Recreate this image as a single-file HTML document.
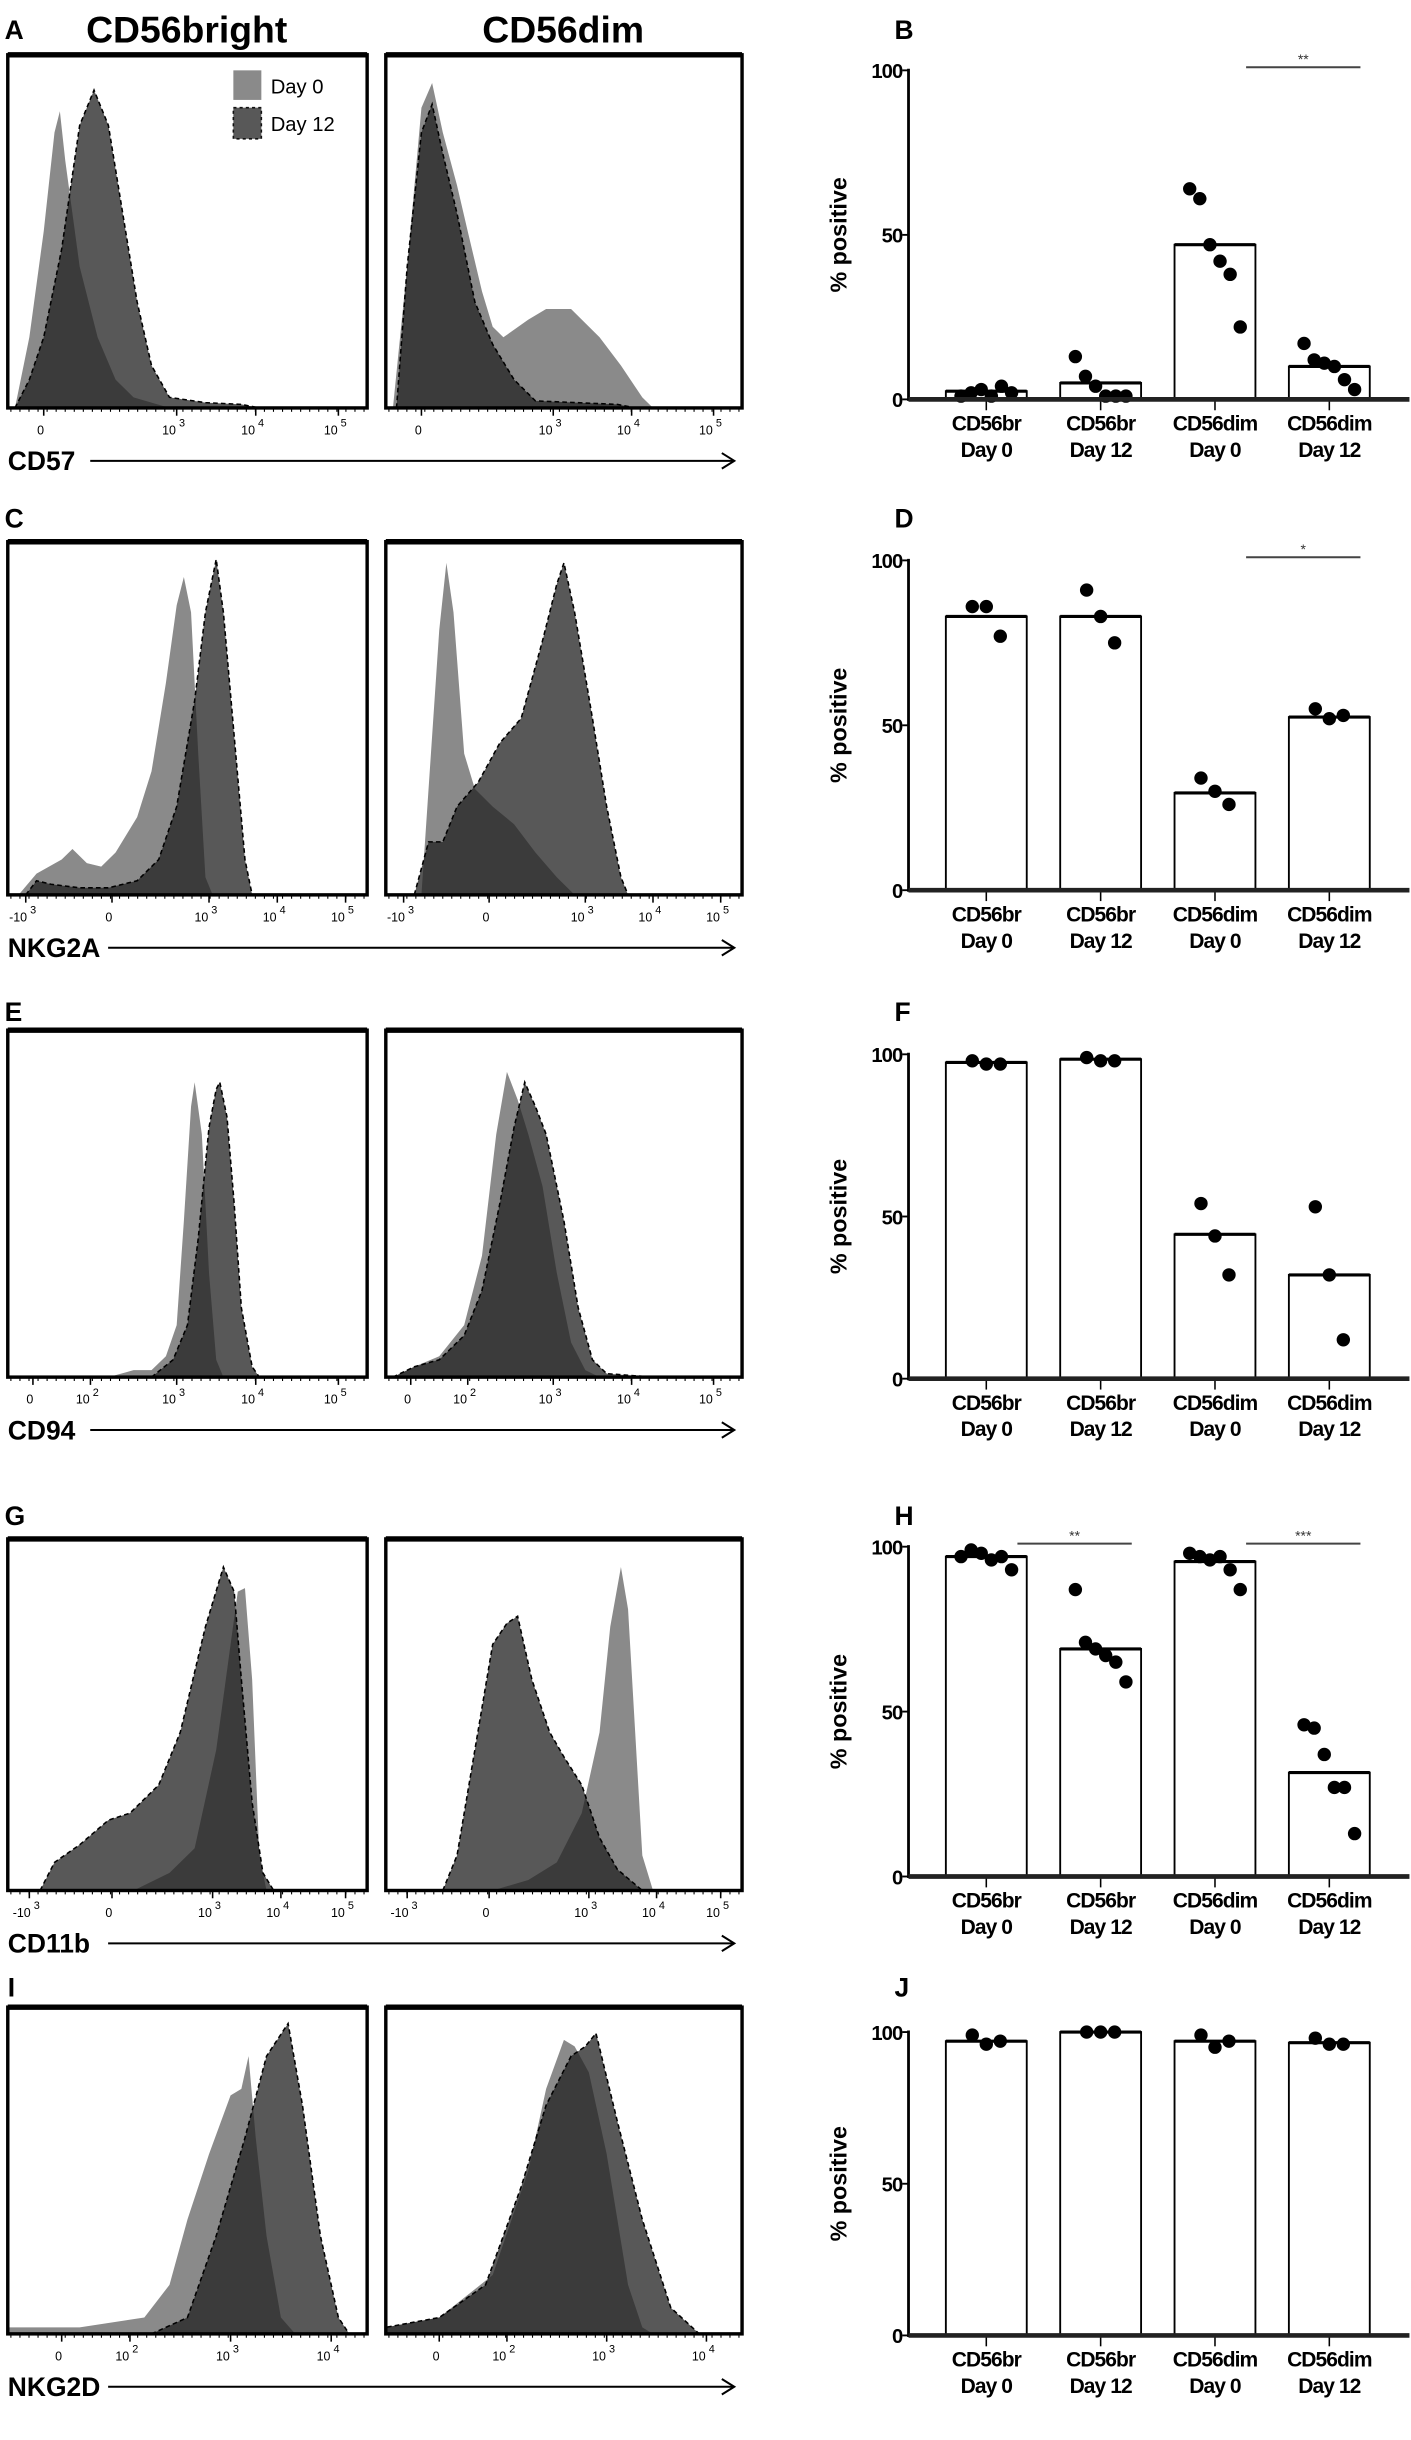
<!DOCTYPE html>
<html><head><meta charset="utf-8">
<style>
html,body{margin:0;padding:0;background:#fff;}
svg{display:block;font-family:"Liberation Sans",Arial,sans-serif;}
</style></head>
<body>
<svg id="fig" xmlns="http://www.w3.org/2000/svg" width="1411" height="2440" viewBox="0 0 907 1568">
<text x="3" y="25" font-size="17" font-weight="bold">A</text>
<text x="120" y="27" font-size="24" font-weight="bold" text-anchor="middle">CD56bright</text>
<text x="362" y="27" font-size="24" font-weight="bold" text-anchor="middle">CD56dim</text>
<text x="575" y="25" font-size="17" font-weight="bold">B</text>
<text x="3" y="339" font-size="17" font-weight="bold">C</text>
<text x="575" y="339" font-size="17" font-weight="bold">D</text>
<text x="3" y="656" font-size="17" font-weight="bold">E</text>
<text x="575" y="656" font-size="17" font-weight="bold">F</text>
<text x="3" y="980" font-size="17" font-weight="bold">G</text>
<text x="575" y="980" font-size="17" font-weight="bold">H</text>
<text x="5" y="1283" font-size="17" font-weight="bold">I</text>
<text x="575" y="1283" font-size="17" font-weight="bold">J</text>
<g>
<rect x="150" y="45" width="18" height="19" fill="#8a8a8a"/>
<text x="174" y="60" font-size="13">Day 0</text>
<rect x="150" y="69" width="18" height="20" fill="#585858" stroke="#111" stroke-dasharray="2,2"/>
<text x="174" y="84" font-size="13">Day 12</text>
</g>
</svg>
<script>
// ---- Bar chart data ----
const categories = ["CD56br|Day 0","CD56br|Day 12","CD56dim|Day 0","CD56dim|Day 12"];
const meansB = [2.5, 5, 47, 10];
const pointsB = [[1,2,3,1,4,2],[13,7,4,1,1,1],[64,61,47,42,38,22],[17,12,11,10,6,3]];
const meansD = [83, 83, 29.5, 52.5];
const pointsD = [[86,86,77],[91,83,75],[34,30,26],[55,52,53]];
const meansF = [97.5, 98.5, 44.5, 32];
const pointsF = [[98,97,97],[99,98,98],[54,44,32],[53,32,12]];
const meansH = [97, 69, 95.5, 31.5];
const pointsH = [[97,99,98,96,97,93],[87,71,69,67,65,59],[98,97,96,97,93,87],[46,45,37,27,27,13]];
const meansJ = [97, 100, 97, 96.5];
const pointsJ = [[99,96,97],[100,100,100],[99,95,97],[98,96,96]];
const yTicks = [0, 50, 100];

// ---- Histogram data: [x fraction of axis, relative count] ----
const histA1d0 = [[0.02,0],[0.06,0.2],[0.1,0.5],[0.13,0.78],[0.145,0.84],[0.16,0.7],[0.2,0.4],[0.25,0.2],[0.3,0.08],[0.35,0.03],[0.45,0]];
const histA1d12 = [[0.02,0],[0.06,0.08],[0.1,0.2],[0.15,0.45],[0.2,0.8],[0.24,0.9],[0.28,0.8],[0.32,0.55],[0.36,0.3],[0.4,0.12],[0.45,0.03],[0.55,0.015],[0.65,0.01],[0.7,0]];
const histA2d0 = [[0.02,0],[0.06,0.4],[0.1,0.85],[0.13,0.92],[0.16,0.78],[0.2,0.63],[0.23,0.5],[0.27,0.33],[0.3,0.23],[0.33,0.2],[0.4,0.25],[0.45,0.28],[0.52,0.28],[0.6,0.2],[0.66,0.12],[0.72,0.03],[0.75,0]];
const histA2d12 = [[0.03,0],[0.06,0.4],[0.1,0.78],[0.13,0.86],[0.16,0.72],[0.2,0.55],[0.25,0.3],[0.3,0.18],[0.36,0.08],[0.42,0.02],[0.65,0.01],[0.7,0]];
const histC1d0 = [[0.03,0],[0.08,0.06],[0.15,0.1],[0.18,0.13],[0.22,0.09],[0.26,0.08],[0.3,0.12],[0.36,0.22],[0.4,0.35],[0.44,0.6],[0.47,0.82],[0.49,0.9],[0.51,0.8],[0.53,0.4],[0.55,0.05],[0.57,0]];
const histC1d12 = [[0.05,0],[0.08,0.04],[0.12,0.03],[0.2,0.02],[0.28,0.02],[0.36,0.04],[0.42,0.1],[0.47,0.25],[0.52,0.55],[0.55,0.8],[0.58,0.95],[0.6,0.8],[0.63,0.45],[0.66,0.1],[0.68,0]];
const histC2d0 = [[0.1,0],[0.12,0.3],[0.15,0.75],[0.17,0.94],[0.19,0.8],[0.22,0.4],[0.25,0.3],[0.3,0.25],[0.36,0.2],[0.42,0.12],[0.48,0.05],[0.53,0]];
const histC2d12 = [[0.08,0],[0.12,0.15],[0.16,0.15],[0.2,0.25],[0.26,0.32],[0.32,0.43],[0.38,0.5],[0.44,0.72],[0.48,0.88],[0.5,0.94],[0.53,0.8],[0.58,0.5],[0.62,0.25],[0.66,0.05],[0.68,0]];
const histE1d0 = [[0.28,0],[0.35,0.02],[0.4,0.02],[0.44,0.06],[0.47,0.15],[0.49,0.45],[0.51,0.78],[0.52,0.85],[0.54,0.7],[0.56,0.3],[0.58,0.05],[0.6,0]];
const histE1d12 = [[0.4,0],[0.46,0.05],[0.5,0.15],[0.53,0.4],[0.56,0.72],[0.58,0.83],[0.59,0.85],[0.61,0.75],[0.63,0.5],[0.65,0.2],[0.68,0.03],[0.7,0]];
const histE2d0 = [[0.02,0],[0.08,0.03],[0.15,0.06],[0.22,0.15],[0.27,0.35],[0.31,0.7],[0.34,0.88],[0.37,0.8],[0.4,0.7],[0.44,0.55],[0.48,0.3],[0.52,0.1],[0.56,0.02],[0.6,0]];
const histE2d12 = [[0.02,0],[0.08,0.03],[0.15,0.05],[0.22,0.12],[0.27,0.25],[0.32,0.5],[0.36,0.72],[0.39,0.85],[0.42,0.78],[0.45,0.7],[0.5,0.45],[0.54,0.2],[0.58,0.05],[0.62,0.01],[0.75,0]];
const histG1d0 = [[0.35,0],[0.45,0.05],[0.52,0.12],[0.58,0.4],[0.62,0.7],[0.64,0.85],[0.66,0.86],[0.68,0.6],[0.7,0.1],[0.72,0]];
const histG1d12 = [[0.09,0],[0.13,0.08],[0.2,0.13],[0.28,0.2],[0.34,0.22],[0.42,0.3],[0.48,0.45],[0.55,0.75],[0.6,0.92],[0.63,0.85],[0.65,0.6],[0.68,0.25],[0.71,0.05],[0.74,0]];
const histG2d0 = [[0.3,0],[0.4,0.03],[0.48,0.08],[0.55,0.22],[0.6,0.45],[0.63,0.75],[0.66,0.92],[0.68,0.8],[0.7,0.45],[0.72,0.1],[0.75,0]];
const histG2d12 = [[0.16,0],[0.2,0.1],[0.25,0.4],[0.3,0.7],[0.34,0.76],[0.37,0.78],[0.41,0.6],[0.46,0.45],[0.5,0.38],[0.55,0.3],[0.6,0.15],[0.65,0.06],[0.72,0]];
const histI1d0 = [[0,0.02],[0.2,0.02],[0.38,0.05],[0.45,0.15],[0.5,0.35],[0.56,0.55],[0.62,0.73],[0.65,0.75],[0.67,0.85],[0.69,0.6],[0.72,0.3],[0.76,0.05],[0.8,0]];
const histI1d12 = [[0.4,0],[0.5,0.05],[0.58,0.3],[0.66,0.6],[0.72,0.85],[0.78,0.95],[0.82,0.7],[0.87,0.3],[0.92,0.05],[0.95,0]];
const histI2d0 = [[0,0.02],[0.15,0.05],[0.3,0.18],[0.4,0.5],[0.45,0.75],[0.5,0.9],[0.53,0.88],[0.57,0.8],[0.62,0.55],[0.68,0.15],[0.72,0.02],[0.75,0]];
const histI2d12 = [[0,0.02],[0.15,0.05],[0.28,0.15],[0.38,0.45],[0.45,0.7],[0.52,0.85],[0.56,0.88],[0.59,0.92],[0.65,0.65],[0.72,0.35],[0.8,0.08],[0.88,0]];

const tickLabelsA = [["0",""],["10","3"],["10","4"],["10","5"]];
const tickPosA = [0.1,0.47,0.69,0.92];
const tickLabelsC = [["-10","3"],["0",""],["10","3"],["10","4"],["10","5"]];
const tickPosC = [0.05,0.29,0.56,0.75,0.94];
const tickLabelsE = [["0",""],["10","2"],["10","3"],["10","4"],["10","5"]];
const tickPosE = [0.07,0.23,0.47,0.69,0.92];
const tickLabelsG = [["-10","3"],["0",""],["10","3"],["10","4"],["10","5"]];
const tickPosG = [0.06,0.29,0.57,0.76,0.94];
const tickLabelsI = [["0",""],["10","2"],["10","3"],["10","4"]];
const tickPosI = [0.15,0.34,0.62,0.9];

const NS = "http://www.w3.org/2000/svg";
const svg = document.getElementById("fig");
function mk(tag, attrs, parent){
  const e = document.createElementNS(NS, tag);
  for (const k in attrs) e.setAttribute(k, attrs[k]);
  (parent||svg).appendChild(e);
  return e;
}

const rows = [
  {key:"a", top:35, bot:262, marker:"CD57", d:[[histA1d0,histA1d12],[histA2d0,histA2d12]], tp:tickPosA, tl:tickLabelsA},
  {key:"c", top:348, bot:575, marker:"NKG2A", d:[[histC1d0,histC1d12],[histC2d0,histC2d12]], tp:tickPosC, tl:tickLabelsC},
  {key:"e", top:662, bot:885, marker:"CD94", d:[[histE1d0,histE1d12],[histE2d0,histE2d12]], tp:tickPosE, tl:tickLabelsE},
  {key:"g", top:989, bot:1215, marker:"CD11b", d:[[histG1d0,histG1d12],[histG2d0,histG2d12]], tp:tickPosG, tl:tickLabelsG},
  {key:"i", top:1290, bot:1500, marker:"NKG2D", d:[[histI1d0,histI1d12],[histI2d0,histI2d12]], tp:tickPosI, tl:tickLabelsI}
];
const boxes = [[5,236],[248,477]];

function histPath(pts, x0, x1, top, bot){
  const xs = v => x0 + v*(x1-x0);
  const ys = v => bot - v*(bot-top);
  let d = "M" + xs(pts[0][0]) + "," + bot;
  pts.forEach(p => { d += " L" + xs(p[0]).toFixed(2) + "," + ys(p[1]).toFixed(2); });
  d += " L" + xs(pts[pts.length-1][0]) + "," + bot + " Z";
  return d;
}

rows.forEach(r => {
  boxes.forEach((b, bi) => {
    const g = mk("g", {});
    
    
    const p0 = mk("path", {d: histPath(r.d[bi][0], b[0], b[1], r.top, r.bot), fill:"#8a8a8a"}, g);
    
    
    const p1 = mk("path", {d: histPath(r.d[bi][1], b[0], b[1], r.top, r.bot), fill:"#202020", "fill-opacity":"0.75", stroke:"#000", "stroke-width":"1", "stroke-dasharray":"3,2"}, g);
    
    
    const bx = mk("rect", {x:b[0], y:r.top, width:b[1]-b[0], height:r.bot-r.top, fill:"none", stroke:"#000", "stroke-width":"2.2"}, g);
    
    
    mk("line", {x1:b[0], x2:b[1], y1:r.top, y2:r.top, stroke:"#000", "stroke-width":"3.5"}, g);
    for (let k=0;k<40;k++){
      const xx = b[0] + 2 + k*(b[1]-b[0]-4)/39;
      mk("line", {x1:xx, x2:xx, y1:r.bot, y2:r.bot+2.5, stroke:"#000", "stroke-width":"0.7"}, g);
    }
    r.tp.forEach((t, ti) => {
      const xx = b[0] + t*(b[1]-b[0]);
      mk("line", {x1:xx, x2:xx, y1:r.bot, y2:r.bot+5, stroke:"#000", "stroke-width":"1"}, g);
      const tx = mk("text", {x:xx-2, y:r.bot+17, "font-size":"8", "text-anchor":"middle"}, g);
      
      
      tx.textContent = r.tl[ti][0];
      if (r.tl[ti][1]) {
        const sp = mk("tspan", {dy:"-5", "font-size":"7"}, tx);
        sp.textContent = " " + r.tl[ti][1];
      }
    });
  });
  const lbl = mk("text", {x:5, y:r.bot+40, "font-size":"17", "font-weight":"bold"});
  
  
  lbl.textContent = r.marker;
  const ax0 = 12 + r.marker.length*11.5;
  const ar = mk("line", {x1:ax0, x2:472, y1:r.bot+34, y2:r.bot+34, stroke:"#000", "stroke-width":"1.3"});
  
  
  mk("path", {d:"M464,"+(r.bot+29)+" L472,"+(r.bot+34)+" L464,"+(r.bot+39), fill:"none", stroke:"#000", "stroke-width":"1.3"});
});

const barCharts = [
  {key:"b", y100:45, y0:256.5, means:meansB, pts:pointsB, sig:[[2,3,"**"]]},
  {key:"d", y100:360, y0:572, means:meansD, pts:pointsD, sig:[[2,3,"*"]]},
  {key:"f", y100:677.5, y0:886, means:meansF, pts:pointsF, sig:[]},
  {key:"h", y100:994, y0:1206, means:meansH, pts:pointsH, sig:[[0,1,"**"],[2,3,"***"]]},
  {key:"j", y100:1306, y0:1501, means:meansJ, pts:pointsJ, sig:[]}
];
const axisX = 584, barW = 52;
const xCenter = i => 634 + i*73.5;
barCharts.forEach(c => {
  const yS = v => c.y0 - v/100*(c.y0-c.y100);
  const g = mk("g", {});
  
  
  c.means.forEach((m, i) => {
    const r = mk("rect", {x:xCenter(i)-barW/2, y:yS(m), width:barW, height:c.y0-yS(m), fill:"#fff", stroke:"#000", "stroke-width":"1.2"}, g);
    
    
    mk("line", {x1:xCenter(i)-barW/2, x2:xCenter(i)+barW/2, y1:yS(m), y2:yS(m), stroke:"#000", "stroke-width":"2"}, g);
    const n = c.pts[i].length;
    c.pts[i].forEach((v, k) => {
      const off = (k - (n-1)/2) * (n>3 ? 6.5 : 9);
      const dot = mk("circle", {cx:xCenter(i)+off, cy:yS(v), r:4.3, fill:"#000"}, g);
      
      
    });
    mk("line", {x1:xCenter(i), x2:xCenter(i), y1:c.y0, y2:c.y0+7, stroke:"#000", "stroke-width":"1"}, g);
    const parts = categories[i].split("|");
    const t1 = mk("text", {x:xCenter(i), y:c.y0+20, "font-size":"13.5", "font-weight":"bold", "text-anchor":"middle", "letter-spacing":"-0.6"}, g);
    
    
    t1.textContent = parts[0];
    const t2 = mk("text", {x:xCenter(i), y:c.y0+37, "font-size":"13.5", "font-weight":"bold", "text-anchor":"middle", "letter-spacing":"-0.6"}, g);
    
    
    t2.textContent = parts[1];
  });
  const ya = mk("line", {x1:axisX, x2:axisX, y1:c.y100-1, y2:c.y0+1, stroke:"#000", "stroke-width":"1.8"}, g);
  
  
  const xa = mk("line", {x1:axisX, x2:906, y1:c.y0, y2:c.y0, stroke:"#222", "stroke-width":"3"}, g);
  
  
  yTicks.forEach(t => {
    mk("line", {x1:axisX-4, x2:axisX, y1:yS(t), y2:yS(t), stroke:"#000", "stroke-width":"1.2"}, g);
    const tl = mk("text", {x:axisX-4, y:yS(t)+5, "font-size":"13", "font-weight":"bold", "text-anchor":"end", "letter-spacing":"-0.6"}, g);
    
    
    tl.textContent = t;
  });
  const my = (c.y0 + c.y100)/2;
  const yt = mk("text", {x:0, y:0, "font-size":"15", "font-weight":"bold", "text-anchor":"middle", transform:"translate(544,"+my+") rotate(-90)"}, g);
  
  
  yt.textContent = "% positive";
  c.sig.forEach(s => {
    const yy = c.y100 - 2;
    const sl = mk("line", {x1:xCenter(s[0])+20, x2:xCenter(s[1])+20, y1:yy, y2:yy, stroke:"#444", "stroke-width":"1.3"}, g);
    
    
    const st = mk("text", {x:(xCenter(s[0])+xCenter(s[1]))/2+20, y:yy-2, "font-size":"9", "text-anchor":"middle", fill:"#333"}, g);
    
    
    st.textContent = s[2];
  });
});
</script>
</body></html>
